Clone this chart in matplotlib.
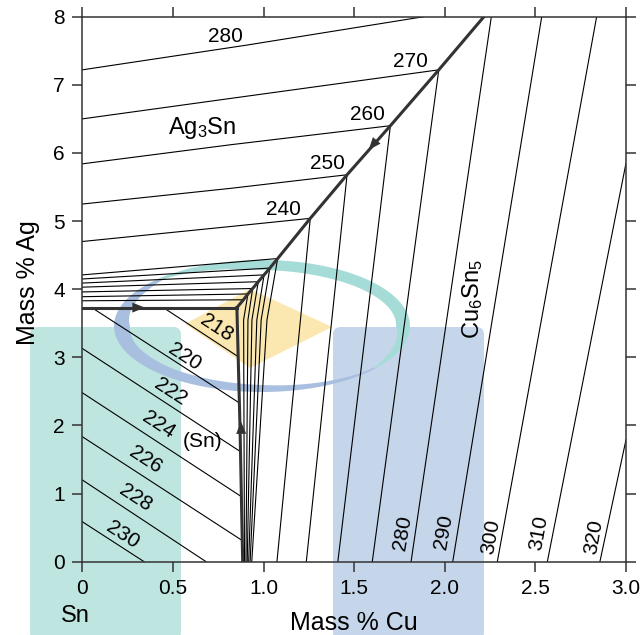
import numpy as np
import matplotlib
matplotlib.use('Agg')
import matplotlib.pyplot as plt
from matplotlib.patches import Polygon, FancyBboxPatch

plt.rcParams['font.family'] = ['Liberation Sans', 'DejaVu Sans']
plt.rcParams['mathtext.default'] = 'regular'

# --- liquidus projection, Sn corner of Sn-Ag-Cu (mass % Cu, mass % Ag) ---

# univariant valleys
sn_ag3sn_x = [0, 0.853]
sn_ag3sn_y = [3.73, 3.73]
sn_cu6sn5_x = [0.853, 0.87, 0.885]
sn_cu6sn5_y = [3.73, 2.0, 0]
valley_x = [0.853, 0.889, 0.914, 0.94, 0.971, 1.003, 1.035, 1.078, 1.258, 1.461, 1.70, 1.967, 2.216]
valley_y = [3.73, 3.845, 3.93, 4.01, 4.11, 4.21, 4.31, 4.45, 5.04, 5.68, 6.40, 7.22, 8.0]

# Ag3Sn isotherms 240..280
ag3sn_temps = [240, 250, 260, 270, 280]
ag3sn_x = [[0, 0.817, 1.258], [0, 0.817, 1.461], [0, 0.817, 1.70],
           [0, 0.817, 1.967], [0, 0.9, 1.884]]
ag3sn_y = [[4.70, 4.92, 5.04], [5.25, 5.48, 5.68], [5.84, 6.12, 6.40],
           [6.50, 6.80, 7.22], [7.22, 7.58, 8.0]]
# closely spaced Ag3Sn isotherms near the eutectic
ag3sn_minor_y0 = [4.21, 4.15, 4.09, 4.03, 3.96, 3.89, 3.83]

# Cu6Sn5 isotherms 240..320
cu6sn5_temps = [240, 250, 260, 270, 280, 290, 300, 310, 320]
cu6sn5_x0 = [1.258, 1.461, 1.70, 1.967, 2.257, 2.535, 2.838, 3.0, 3.0]
cu6sn5_y0 = [5.04, 5.68, 6.40, 7.22, 8.0, 8.0, 8.0, 5.85, 1.79]
cu6sn5_x1 = [1.074, 1.236, 1.41, 1.60, 1.814, 2.044, 2.29, 2.566, 2.856]
# fan of Cu6Sn5 isotherms leaving the valley just above the eutectic
fan_mid_x = [1.019, 0.987, 0.963, 0.936, 0.914, 0.89]
fan_bot_x = [0.935, 0.926, 0.918, 0.91, 0.903, 0.895]

# (Sn) isotherms 218..230
sn_temps = [218, 220, 222, 224, 226, 228, 230]
sn_x0 = [0.447, 0.052, 0, 0, 0, 0, 0]
sn_y0 = [3.73, 3.73, 3.13, 2.48, 1.835, 1.2, 0.587]
sn_x1 = [0.86, 0.867, 0.873, 0.878, 0.883, 0.683, 0.341]
sn_y1 = [3.01, 2.33, 1.615, 0.955, 0.31, 0, 0]

x_ticks = [0, 0.5, 1.0, 1.5, 2.0, 2.5, 3.0]
x_ticklabels = ['0', '0.5', '1.0', '1.5', '2.0', '2.5', '3.0']
y_ticks = [0, 1, 2, 3, 4, 5, 6, 7, 8]

W, H = 640, 635
fig = plt.figure(figsize=(W / 100, H / 100), dpi=100)
ax = fig.add_axes([82.3 / W, 73.3 / H, 543.7 / W, 545 / H])
ax.set_zorder(2)
ax.patch.set_visible(False)

thin = dict(color='black', lw=0.8)
thick_c = '#333333'
thick = dict(color=thick_c, lw=2.2, solid_joinstyle='miter')


def px(x, y):
    return x / W, 1 - y / H


# background shapes (figure pixels)
for x0, c in [(30, '#bfe5e1'), (333, '#c5d6ea')]:
    fx, fy = px(x0, 640)
    fig.add_artist(FancyBboxPatch((fx, fy), 151 / W, 313 / H,
                                  boxstyle='round,pad=0,rounding_size=0.012',
                                  fc=c, ec='none', transform=fig.transFigure, zorder=0.1))

diamond = np.array([px(185, 324), px(250, 289), px(332, 327), px(250, 368)])
fig.add_artist(Polygon(diamond, closed=True, fc='#fbe8b0', ec='none',
                       transform=fig.transFigure, zorder=0.2))


def swoosh(ang, wid, color):
    th = np.radians(np.linspace(ang[0], ang[-1], 120))
    w = np.interp(np.degrees(th), ang, wid)
    cx, cy, a, b = 262, 326, 148, 66
    outer = np.c_[cx + a * np.cos(th), cy - b * np.sin(th)]
    inner = np.c_[cx + (a - w) * np.cos(th), cy - (b - w) * np.sin(th)]
    pts = np.concatenate([outer, inner[::-1]])
    pts = np.c_[pts[:, 0] / W, 1 - pts[:, 1] / H]
    fig.add_artist(Polygon(pts, closed=True, fc=color, ec='none',
                           transform=fig.transFigure, zorder=0.3))


swoosh([130, 180, 230, 270, 320], [2, 16, 10, 7, 1.5], '#a9bfe0')
swoosh([-40, 0, 40, 90, 135], [1.5, 14, 12, 10, 2], '#a6dcd8')

# Ag3Sn field
for xs, ys in zip(ag3sn_x, ag3sn_y):
    ax.plot(xs, ys, **thin)
for i, y0 in enumerate(ag3sn_minor_y0):
    k = 7 - i
    ax.plot([0, valley_x[k]], [y0, valley_y[k]], **thin)

# Cu6Sn5 field
for x0, y0, x1 in zip(cu6sn5_x0, cu6sn5_y0, cu6sn5_x1):
    ax.plot([x0, x1], [y0, 0], **thin)
for i, (xm, xb) in enumerate(zip(fan_mid_x, fan_bot_x)):
    k = 7 - i
    ax.plot([valley_x[k], xm, xb], [valley_y[k], 3.55, 0], **thin)

# (Sn) field
for x0, y0, x1, y1 in zip(sn_x0, sn_y0, sn_x1, sn_y1):
    ax.plot([x0, x1], [y0, y1], **thin)

# valleys
ax.plot(sn_ag3sn_x, sn_ag3sn_y, **thick)
ax.plot(sn_cu6sn5_x, sn_cu6sn5_y, **thick)
ax.plot(valley_x, valley_y, **thick)


def arrow_head(tail, tip):
    ax.annotate('', xy=tip, xytext=tail,
                arrowprops=dict(arrowstyle='-|>,head_length=0.75,head_width=0.3',
                                color=thick_c, lw=0, shrinkA=0, shrinkB=0,
                                mutation_scale=12))


arrow_head((0.25, 3.73), (0.345, 3.73))
arrow_head((1.62, 6.17), (1.58, 6.045))
arrow_head((0.877, 1.85), (0.875, 2.06))

# labels
fs = 15
ag3sn_lab = [(1.11, 5.17), (1.354, 5.85), (1.571, 6.56), (1.811, 7.34), (0.788, 7.71)]
for t, (lx, ly) in zip(ag3sn_temps, ag3sn_lab):
    ax.text(lx, ly, str(t), fontsize=fs, ha='center', va='center')

cu_lab = {280: (1.765, 0.42), 290: (1.994, 0.44), 300: (2.256, 0.37),
          310: (2.519, 0.42), 320: (2.82, 0.37)}
for t in cu6sn5_temps:
    if t in cu_lab:
        lx, ly = cu_lab[t]
        ax.text(lx, ly, str(t), fontsize=fs, ha='center', va='center', rotation=80)

sn_lab = [(0.743, 3.43), (0.567, 3.01), (0.485, 2.49), (0.418, 2.01),
          (0.347, 1.50), (0.291, 0.94), (0.225, 0.39)]
for t, (lx, ly) in zip(sn_temps, sn_lab):
    ax.text(lx, ly, str(t), fontsize=fs, ha='center', va='center', rotation=-33)

ax.text(0.661, 1.77, '(Sn)', fontsize=fs, ha='center', va='center')
ax.text(0.66, 6.36, 'Ag$_3$Sn', fontsize=17, ha='center', va='center')
ax.text(2.153, 3.86, 'Cu$_6$Sn$_5$', fontsize=17, ha='center', va='center', rotation=90)

ax.set_xlim(0, 3.0)
ax.set_ylim(0, 8)
ax.set_xticks(x_ticks)
ax.set_xticklabels(x_ticklabels)
ax.set_yticks(y_ticks)
ax.tick_params(direction='out', length=7.5, width=1.1, color=thick_c,
               labelsize=fs, top=True, right=True, pad=5)
for s in ax.spines.values():
    s.set_linewidth(1.1)
    s.set_color(thick_c)

fig.text(28 / W, 1 - 283 / H, 'Mass % Ag', fontsize=18, rotation=90, ha='center', va='center')
fig.text(354 / W, 1 - 630 / H, 'Mass % Cu', fontsize=18, ha='center', va='baseline')
fig.text(75 / W, 1 - 621.5 / H, 'Sn', fontsize=17, ha='center', va='baseline')

fig.savefig('out.png', dpi=100)
